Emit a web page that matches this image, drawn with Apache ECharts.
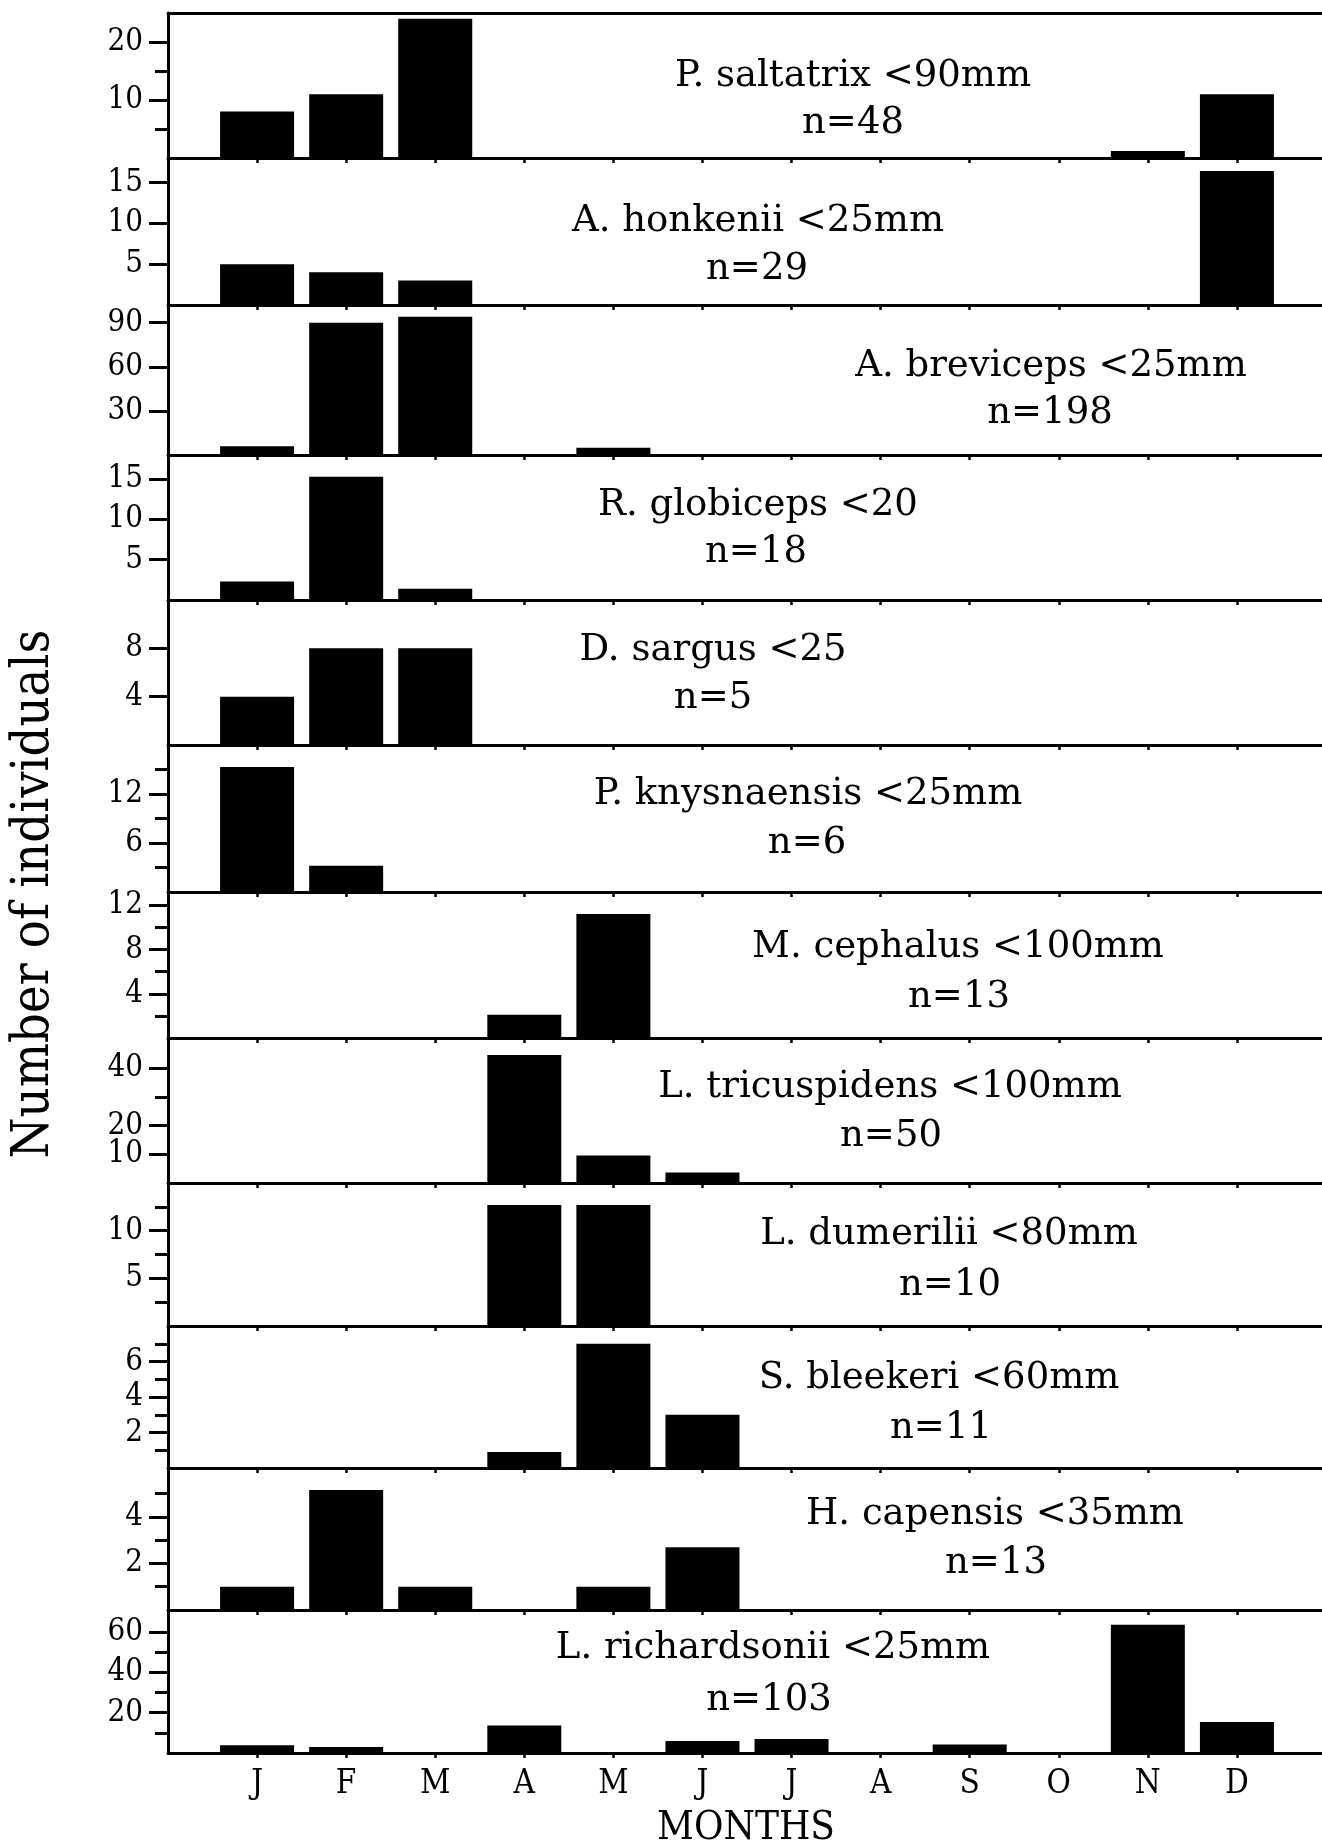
<!DOCTYPE html>
<html><head><meta charset="utf-8">
<script src="https://cdn.jsdelivr.net/npm/echarts@6/dist/echarts.min.js"></script>
<style>html,body{margin:0;padding:0;background:#fff}#c{width:1322px;height:1847px}</style>
</head><body><div id="c"></div>
<script>
// ---------- data ----------
const months = ['J','F','M','A','M','J','J','A','S','O','N','D'];
const speciesNames = ['P. saltatrix <90mm','A. honkenii <25mm','A. breviceps <25mm','R. globiceps <20',
  'D. sargus <25','P. knysnaensis <25mm','M. cephalus <100mm','L. tricuspidens <100mm',
  'L. dumerilii <80mm','S. bleekeri <60mm','H. capensis <35mm','L. richardsonii <25mm'];
const nLabels = ['n=48','n=29','n=198','n=18','n=5','n=6','n=13','n=50','n=10','n=11','n=13','n=103'];

const saltatrix    = [8, 11, 24, 0, 0, 0, 0, 0, 0, 0, 1.2, 11];
const honkenii     = [5, 4, 3, 0, 0, 0, 0, 0, 0, 0, 0, 16.4];
const breviceps    = [6, 90, 94, 0, 5, 0, 0, 0, 0, 0, 0, 0];
const globiceps    = [2.3, 15.3, 1.4, 0, 0, 0, 0, 0, 0, 0, 0, 0];
const sargus       = [4, 8, 8, 0, 0, 0, 0, 0, 0, 0, 0, 0];
const knysnaensis  = [15.3, 3.2, 0, 0, 0, 0, 0, 0, 0, 0, 0, 0];
const cephalus     = [0, 0, 0, 2.1, 11.2, 0, 0, 0, 0, 0, 0, 0];
const tricuspidens = [0, 0, 0, 44.6, 9.6, 3.7, 0, 0, 0, 0, 0, 0];
const dumerilii    = [0, 0, 0, 12.7, 12.7, 0, 0, 0, 0, 0, 0, 0];
const bleekeri     = [0, 0, 0, 0.9, 7, 3, 0, 0, 0, 0, 0, 0];
const capensis     = [1, 5.15, 1, 0, 1, 2.7, 0, 0, 0, 0, 0, 0];
const richardsonii = [3.8, 3, 0, 13.6, 0, 6, 7, 0, 4.2, 0, 63.7, 15.4];

// y-axis extents and tick labels per panel
const yMax = [25, 18, 102, 18, 12, 18, 13.2, 50.5, 15, 8, 6.1, 71];
const yTicks = [[10,20],[5,10,15],[30,60,90],[5,10,15],[4,8],[6,12],[4,8,12],[10,20,40],[5,10],[2,4,6],[2,4],[20,40,60]];
const yMinorTicks = [[5,15],[],[],[],[],[3,9,15],[2,6,10],[30],[2.5,7.5,12.5],[1,3,5,7],[1,3,5],[10,30,50]];

const seriesValues = [saltatrix, honkenii, breviceps, globiceps, sargus, knysnaensis,
  cephalus, tricuspidens, dumerilii, bleekeri, capensis, richardsonii];

// ---------- layout ----------
const panelEdges = [13, 158, 305, 455, 600, 745, 892, 1038, 1183, 1326, 1468, 1610, 1753];
const titlePos = [[853,76],[758,221],[1051,366],[758,505],[713,650],[808,794],[958,947],[890,1087],[949,1234],[939,1378],[995,1514],[773,1648]];
const nPos = [[853,123],[757,269],[1050,413],[756,552],[713,698],[807,843],[959,997],[891,1136],[950,1285],[941,1428],[996,1563],[769,1700]];

const COND = '"DejaVu Serif Condensed", "DejaVu Serif", "Liberation Serif", serif';
const SERIF = '"DejaVu Serif", "Liberation Serif", serif';
const monthPos = months.map((m, k) => k + 1);
const lineStyle = {color: '#000', width: 3};

function majorAxis(i, vals, withLine) {
  return {type: 'value', gridIndex: i, min: 0, max: yMax[i], position: 'left',
    axisLine: {show: withLine, lineStyle},
    axisTick: {show: vals.length > 0, customValues: vals.length ? vals : [0], length: 19, lineStyle: {color: '#000', width: 3}},
    axisLabel: {show: vals.length > 0, customValues: vals.length ? vals : [0], margin: 25, fontFamily: COND, fontSize: 31,
      color: '#000', hideOverlap: false},
    splitLine: {show: false}};
}

const grid = [], xAxis = [], yAxis = [], series = [], graphic = [];
for (let i = 0; i < 12; i++) {
  grid.push({left: 168, width: 1158, top: panelEdges[i], height: panelEdges[i+1] - panelEdges[i],
    outerBoundsMode: 'none', containLabel: false, show: false});
  xAxis.push({type: 'value', gridIndex: i, min: 0, max: 13, position: 'bottom',
    axisLine: {show: true, onZero: false, lineStyle},
    axisTick: {show: true, customValues: monthPos, length: 5, lineStyle: {color: '#000', width: 2.5}},
    axisLabel: {show: i === 11, customValues: monthPos, formatter: v => months[Math.round(v) - 1] || '',
      fontFamily: COND, fontSize: 33, color: '#000', margin: 15, hideOverlap: false},
    splitLine: {show: false}});
  // alternate labels over two axes so that none are dropped for overlapping
  const ticksA = yTicks[i].filter((v, k) => k % 2 === 0);
  const ticksB = yTicks[i].filter((v, k) => k % 2 === 1);
  yAxis.push(majorAxis(i, ticksA, true));
  yAxis.push(majorAxis(i, ticksB, false));
  yAxis.push({type: 'value', gridIndex: i, min: 0, max: yMax[i], position: 'left',
    axisLine: {show: false},
    axisTick: {show: yMinorTicks[i].length > 0, customValues: yMinorTicks[i].length ? yMinorTicks[i] : [0], length: 13,
      lineStyle: {color: '#000', width: 3}},
    axisLabel: {show: false}, splitLine: {show: false}});
  series.push({type: 'bar', xAxisIndex: i, yAxisIndex: 3 * i, barWidth: 74,
    itemStyle: {color: '#000'}, silent: true,
    data: seriesValues[i].map((v, k) => [k + 1, v]).filter(d => d[1] > 0)});
  graphic.push({type: 'text', x: titlePos[i][0], y: titlePos[i][1],
    style: {text: speciesNames[i], font: '37px ' + SERIF, fill: '#000', textAlign: 'center', textVerticalAlign: 'middle'}});
  graphic.push({type: 'text', x: nPos[i][0], y: nPos[i][1],
    style: {text: nLabels[i], font: '37px ' + SERIF, fill: '#000', textAlign: 'center', textVerticalAlign: 'middle'}});
}
// top frame line of the first panel
xAxis.push({type: 'value', gridIndex: 0, min: 0, max: 13, position: 'top',
  axisLine: {show: true, onZero: false, lineStyle}, axisTick: {show: false}, axisLabel: {show: false}, splitLine: {show: false}});

graphic.push({type: 'text', x: 34, y: 894, rotation: Math.PI / 2,
  style: {text: 'Number of individuals', font: '52px ' + COND, fill: '#000', textAlign: 'center', textVerticalAlign: 'middle'}});
graphic.push({type: 'text', x: 746, y: 1829,
  style: {text: 'MONTHS', font: '40px ' + COND, fill: '#000', textAlign: 'center', textVerticalAlign: 'middle'}});

const chart = echarts.init(document.getElementById('c'), null, {renderer: 'canvas'});
chart.setOption({animation: false, backgroundColor: '#fff', grid, xAxis, yAxis, series, graphic});
</script></body></html>
